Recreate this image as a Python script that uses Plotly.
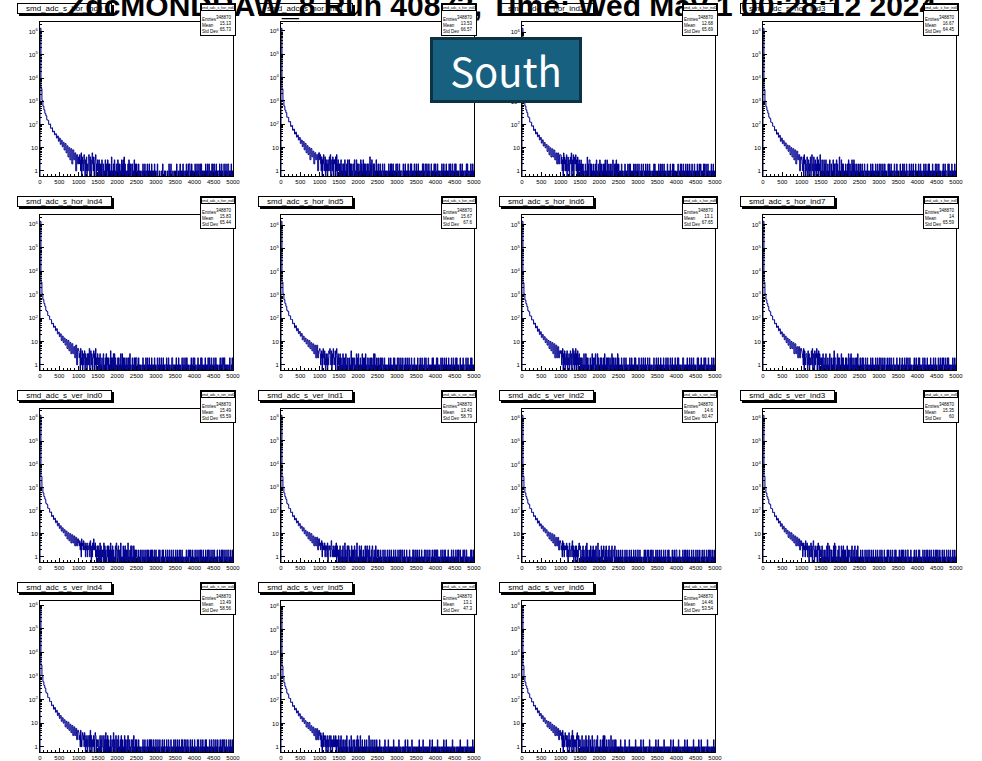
import math
import plotly.graph_objects as go

W, H = 982, 761
HEAD_BIN = 25      # ADC per bin, 0..1000
TAIL_START = 1000
TAIL_BIN = 12.5    # ADC per bin, 1000..5000

TITLE = "ZdcMONDRAW_8 Run 40873, Time: Wed May 1 00:28:12 2024"

names = ["smd_adc_s_hor_ind0", "smd_adc_s_hor_ind1", "smd_adc_s_hor_ind2", "smd_adc_s_hor_ind3",
         "smd_adc_s_hor_ind4", "smd_adc_s_hor_ind5", "smd_adc_s_hor_ind6", "smd_adc_s_hor_ind7",
         "smd_adc_s_ver_ind0", "smd_adc_s_ver_ind1", "smd_adc_s_ver_ind2", "smd_adc_s_ver_ind3",
         "smd_adc_s_ver_ind4", "smd_adc_s_ver_ind5", "smd_adc_s_ver_ind6"]
entries = ["348870"] * 15
means = ["15.13", "13.53", "12.68", "16.67", "15.83", "15.67", "13.1", "14",
         "15.49", "13.43", "14.6", "15.35", "13.49", "13.1", "14.46"]
stddevs = ["65.73", "66.57", "65.69", "64.45", "65.44", "67.6", "67.65", "65.59",
           "65.59", "58.79", "60.47", "60", "58.56", "47.3", "53.54"]

# counts for bins 0..1000 (25 ADC per bin)
head_hor0 = [1400000,3500,1100,620,430,300,240,160,150,100,105,68,72,48,52,36,40,26,32,19,26,14,21,11,17,8,15,6,12,4,10,3,9,2,8,3,6,1,5,2]
head_hor1 = [1300000,3300,1050,600,400,315,200,195,125,130,80,88,55,62,38,46,28,34,21,27,15,21,11,18,8,15,6,12,5,10,3,9,4,7,2,6,3,5,1,6]
head_hor2 = [1500000,3600,1150,640,440,330,220,200,130,128,86,90,56,64,40,47,30,36,22,28,16,22,12,17,10,14,7,12,5,10,4,9,4,8,3,6,2,6,2,5]
head_hor3 = [1400000,3200,1000,580,410,305,205,180,125,118,84,83,54,60,38,44,28,34,19,26,15,20,12,16,9,13,7,12,5,10,4,9,3,8,2,7,3,5,1,4]
head_hor4 = [1350000,3400,1080,610,420,315,210,190,128,122,86,85,56,60,40,45,29,35,21,25,16,21,11,17,9,14,7,12,5,11,4,9,3,8,3,6,2,7,1,5]
head_hor5 = [1450000,3550,1120,630,435,325,218,196,130,126,88,88,58,62,39,48,29,36,22,27,17,22,12,17,10,14,8,12,6,11,5,9,4,8,3,7,2,7,2,4]
head_hor6 = [1380000,3300,1060,590,415,310,208,186,124,122,83,85,55,61,38,45,27,34,20,26,15,20,12,16,9,13,7,11,5,10,4,9,3,8,2,7,2,6,2,4]
head_hor7 = [1420000,3450,1090,615,425,318,212,190,130,124,85,86,57,61,40,46,29,35,21,26,16,21,12,17,9,14,7,12,5,10,5,9,3,8,3,6,2,6,2,5]
head_ver0 = [1300000,3000,1000,580,400,310,205,184,126,122,84,87,55,62,41,47,30,36,22,28,17,22,13,18,11,15,8,13,6,11,5,10,4,9,4,8,3,7,3,6]
head_ver1 = [1250000,2900,980,560,390,302,200,181,122,120,82,85,54,60,39,46,29,35,22,27,17,21,13,18,10,14,8,12,6,11,5,10,4,8,3,7,3,7,2,6]
head_ver2 = [1350000,3100,1020,590,405,312,208,186,125,122,83,86,56,61,40,47,29,36,22,27,17,22,13,18,11,15,8,12,6,11,5,10,4,9,3,7,3,7,2,5]
head_ver3 = [1320000,3050,1010,575,398,306,204,183,124,120,82,85,55,60,39,46,29,35,21,27,16,21,12,17,10,14,7,12,6,11,5,9,4,8,3,7,3,6,2,5]
head_ver4 = [800000,2900,990,570,395,304,202,182,123,119,82,84,55,59,39,46,29,35,21,27,16,21,12,17,10,14,7,12,6,11,5,9,4,8,3,7,3,6,2,5]
head_ver5 = [900000,2800,950,550,380,294,195,176,120,116,79,82,53,58,38,44,28,34,21,26,16,20,12,17,10,13,7,11,6,11,5,8,4,7,3,6,2,6,2,5]
head_ver6 = [850000,2850,970,560,388,300,198,179,121,117,80,83,54,58,38,45,28,34,21,26,16,21,12,17,10,13,7,12,6,11,5,9,4,8,3,7,3,6,2,5]

# counts for bins 1000..5000 (12.5 ADC per bin), one digit per bin
tail_hor0 = ("4253160421 3520314021 2530410362 1402350213 "
             "2030202030 0201030201 3020201040 1020301020 0302020103 2030402010 1020302020 0201030201 "
             "2010201010 0102010201 1020102010 0201010201 1002000100 0100200010 1000100201 0200010010 "
             "0102001001 2010102010 0102010202 2010201010 0201020102 1020201010 0102010201 2010102020 "
             "0201020101 1020102010 0201020102 2010102010")
tail_hor1 = ("3521403251 2403120312 4150231403 2304150231 "
             "2020301020 2030102030 0302020102 1030103020 0201030201 3020201020 2010402030 0202010301 "
             "0201020101 2010201010 0102010202 1020101020 0201020101 1002010201 0102010020 2010102010 "
             "2010201010 0102020102 1020102010 0201010201 2010201010 0102010201 1020101020 0201020101 "
             "2020101010 0201020101 1010202010 0102010201")
tail_hor2 = ("5241306241 3150241302 4260315042 2513042031 "
             "2030202010 0201040203 3020201020 1020301020 0302020102 2030103020 1020201030 0202030201 "
             "2010102010 0102010102 1020201010 0201201020 1020010201 0210102010 2010201001 0102020101 "
             "1002010201 2010201010 0201010201 1020201010 0102101020 2010201002 0102010201 1020010201 "
             "0102010201 2010102020 0201020101 1020102010")
tail_hor3 = ("3214052301 2401302140 3512042031 2041302150 "
             "1030103020 3010201030 0201030202 2030201040 1030202010 0201020302 2010302030 2010201020 "
             "0201020101 2010102010 0102010201 1002010201 0201201020 1020101002 0201020101 1020010201 "
             "0100201002 1020100201 1002010201 0201102010 1020102010 0102010201 1020201010 0201010201 "
             "2010201010 0102010201 1002020101 0201010201")
tail_hor4 = ("4230512403 1240312031 3150241302 2403150213 "
             "2020301020 0301020302 1020104020 2030302010 0202010301 3020201020 1020203010 0201020202 "
             "2010201010 0102010102 1020102010 0201010201 1002010201 0201020101 1020102010 0102201010 "
             "1020010201 0100201020 1020201010 0102010201 2010010201 0102020101 1020101020 0201020101 "
             "2010201010 0102010201 2020101010 0102001020")
tail_hor5 = ("5312403521 4203130214 3521403152 2140352031 "
             "2030201030 2020301020 0201040202 1020103020 3010201030 0202030102 2010202020 1030301020 "
             "0201020201 2010201010 0102010201 1002020101 0201201020 1020010201 0201020101 2010102010 "
             "0102001020 1020100201 2010020101 0102020101 1020201010 0201201020 1020100201 0102010201 "
             "1020201010 0201010201 1002010201 0102020101")
tail_hor6 = ("3412503140 2314021302 4130251403 1503140231 "
             "2020201030 1030202010 0201030201 2030103020 1020201020 0301020202 1020103020 2010201030 "
             "2010102010 0201020101 1002010201 0102020101 1020010201 0201020101 2010201010 0102101020 "
             "1020010201 0102001020 1020100201 0201010201 1020201010 0102201010 1020010201 0201020101 "
             "1002020101 0201010201 2010102010 0102010201")
tail_hor7 = ("4321504213 3204130212 4150320413 2503140321 "
             "2020301020 3010201030 0201020402 2010302020 1030202010 0202010301 2030201020 1020203010 "
             "0201020201 1020102010 0102010201 1002010201 0201201020 1020010201 0201020101 2010100201 "
             "0102001020 1002010201 2010201010 0102010201 1020201010 0201020101 2010010201 0102010201 "
             "1002010201 0201201020 1020201010 0102010201")
tail_ver0 = ("4352416342 5234132413 3241520314 2632412031 "
             "3020403021 2040302013 1030204020 3020103042 2031020401 1030203020 2040102030 3010302021 "
             "2010201020 0201020102 1020201020 0202010201 2010102020 0102020101 2010201020 1020102010 "
             "0201020102 2010201010 0102010201 2020102010 0201020102 1020201020 0102010202 2010201020 "
             "0201010201 1020102020 0201020102 2010201020")
tail_ver1 = ("3423514232 4132314023 2312531213 1231403120 "
             "2030102030 1040201302 3020103020 2031020401 1030203010 2010302031 0203010203 2010203012 "
             "1020102010 0201020101 2010201020 0102010201 1020102020 0201020101 2010102010 0102020102 "
             "1020102010 0201010201 2010201020 0102010202 1020201010 0201020102 2010102010 0102010201 "
             "1020102020 0201010201 2010201010 0102020102")
tail_ver2 = ("4231524132 3241302142 2132513021 3031201342 "
             "3010203020 1030402010 2031020302 0203010401 2010302013 1020301020 3010203012 2030102010 "
             "2010201020 0102010201 1020102010 0201020102 2010201010 0102020102 1020102020 0201010201 "
             "2010201020 0102010201 1020201010 0201020102 2010102010 0102010202 1020102010 0201020101 "
             "2010201020 0102010201 1020102020 0201020102")
tail_ver3 = ("3412423153 2413203124 1302530213 2103420312 "
             "2030102020 1030401302 2020103040 3011020301 1030203020 2010302021 1020301020 3010203010 "
             "1020102010 0201020102 2010201020 0102010201 1020102010 0201010201 2010201020 0102020101 "
             "1020102020 0201020102 2010102010 0102010201 1020201010 0201020102 2010201020 0102010202 "
             "1020102010 0201020101 2010201020 0102010201")
tail_ver4 = ("4231521342 3142031203 2130513021 1302430212 "
             "2010302031 1030204020 3020103012 1040201302 2030102030 0201030201 2031020102 1020301020 "
             "2010201010 0102010201 1020102020 0201020102 2010201020 0102010201 1020102010 0201010201 "
             "2010201020 0102020102 1020102010 0201020101 2010102020 0102010201 1020201010 0201020102 "
             "2010201020 0102010202 1020102010 0201020102")
tail_ver5 = ("3241302413 2130213021 3203120213 1213021203 "
             "1020301020 2010203010 0201030102 1020102030 2010301020 0102010201 1030102010 2010201020 "
             "1010201010 0101020101 1020101010 0102010101 1010201010 0101010201 1020101010 0201010101 "
             "1010102010 0101201010 1010101020 0102010101 1010201010 0101010201 1020101010 0101020101 "
             "1001010101 0201010101 1010102010 0101010201")
tail_ver6 = ("3421503214 2313021402 1230513021 2103420312 "
             "2010301020 1030201030 0201030102 2010203010 1020102030 0301020102 2010301020 1020201010 "
             "1010201010 0102010101 1020101010 0101020101 1010102010 0201010101 1010201010 0101010201 "
             "1020101010 0101201010 1010101020 0102010101 1010201010 0101010201 1020101010 0101020101 "
             "1010102010 0201010101 1010201010 0101010201")

heads = [head_hor0, head_hor1, head_hor2, head_hor3, head_hor4, head_hor5, head_hor6, head_hor7,
         head_ver0, head_ver1, head_ver2, head_ver3, head_ver4, head_ver5, head_ver6]
tails = [tail_hor0, tail_hor1, tail_hor2, tail_hor3, tail_hor4, tail_hor5, tail_hor6, tail_hor7,
         tail_ver0, tail_ver1, tail_ver2, tail_ver3, tail_ver4, tail_ver5, tail_ver6]

x_tick_vals = [0, 500, 1000, 1500, 2000, 2500, 3000, 3500, 4000, 4500, 5000]
y_tick_vals = [1, 10, 100, 1000, 10000, 100000, 1000000]
y_tick_text = ["1", "10", "10<sup>2</sup>", "10<sup>3</sup>", "10<sup>4</sup>", "10<sup>5</sup>", "10<sup>6</sup>"]

# layout geometry (pixels)
COL_LEFT = [40, 281, 522, 763]
COL_RIGHT = [233, 474, 715, 956]
ROW_TOP = [22, 215, 409, 601]
ROW_BOT = [176, 370, 562, 752]

LINE_COLOR = "#00008f"
FONT = "Liberation Sans"
EMPTY = 0.05  # drawing level for empty bins (below the log axis floor)


def px(x):
    return x / W


def py(y):
    return 1 - y / H


fig = go.Figure()
annotations = []
shapes = []

minor_y = [k * 10 ** d for d in range(0, 7) for k in range(2, 10)]

for i, name in enumerate(names):
    r, c = divmod(i, 4)
    head = heads[i]
    tail = [int(ch) for ch in tails[i].replace(" ", "")]
    edges = [HEAD_BIN * k for k in range(len(head))] + [TAIL_START + TAIL_BIN * k for k in range(len(tail))]
    counts = head + tail
    end = TAIL_START + TAIL_BIN * len(tail)
    xs = [0] + edges + [end]
    ys = [EMPTY] + [v if v > 0 else EMPTY for v in counts]
    ys = ys + [ys[-1]]
    ax = "" if i == 0 else str(i + 1)
    fig.add_trace(go.Scatter(x=xs, y=ys, mode="lines",
                             line=dict(color=LINE_COLOR, width=1, shape="hv", simplify=False),
                             xaxis="x" + ax, yaxis="y" + ax, showlegend=False, hoverinfo="skip"))
    peak = max(counts)
    xa = dict(domain=[px(COL_LEFT[c]), px(COL_RIGHT[c])], anchor="y" + ax, range=[0, 5000],
              automargin=False,
              tickmode="array", tickvals=x_tick_vals, ticks="inside", ticklen=4, tickcolor="black",
              minor=dict(ticks="inside", dtick=100, ticklen=2, tickcolor="black"),
              showline=True, mirror=True, linecolor="black", linewidth=1, showgrid=False, zeroline=False,
              tickfont=dict(size=6, color="black", family=FONT))
    ya = dict(domain=[py(ROW_BOT[r]), py(ROW_TOP[r])], anchor="x" + ax, type="log",
              automargin=False,
              range=[-0.22, math.log10(peak) + 0.27],
              tickmode="array", tickvals=y_tick_vals, ticktext=y_tick_text, ticks="inside", ticklen=4,
              tickcolor="black",
              minor=dict(ticks="inside", tickmode="array", tickvals=minor_y, ticklen=2, tickcolor="black"),
              showline=True, mirror=True, linecolor="black", linewidth=1, showgrid=False, zeroline=False,
              tickfont=dict(size=6, color="black", family=FONT))
    fig.layout["xaxis" + ax] = xa
    fig.layout["yaxis" + ax] = ya

# histogram title boxes (shadow as shape, box as annotation)
for i, name in enumerate(names):
    r, c = divmod(i, 4)
    x0 = 17 + 241 * c
    x1 = x0 + 95
    y0 = ROW_TOP[r] - 19
    y1 = y0 + 11
    shapes.append(dict(type="rect", xref="paper", yref="paper", x0=px(x0 + 2), x1=px(x1 + 2),
                       y0=py(y1 + 2), y1=py(y0 + 2), fillcolor="black", line=dict(width=0), layer="above"))
    annotations.append(dict(xref="paper", yref="paper", x=px((x0 + x1) / 2), y=py((y0 + y1) / 2),
                            xanchor="center", yanchor="middle", text=name, showarrow=False,
                            width=x1 - x0 - 2, height=y1 - y0 - 2, bgcolor="white", bordercolor="black",
                            borderwidth=1, borderpad=0, font=dict(size=8, color="black", family=FONT)))

# canvas title
annotations.append(dict(xref="paper", yref="paper", x=px(502), y=py(5), xanchor="center", yanchor="middle",
                        text="<b>" + TITLE + "</b>", showarrow=False,
                        font=dict(size=30, color="black", family=FONT)))

# stats boxes
for i, name in enumerate(names):
    r, c = divmod(i, 4)
    bx1 = COL_RIGHT[c] + 2
    bx0 = bx1 - 34
    by0 = ROW_TOP[r] - 18
    by1 = by0 + 31
    cx = (bx0 + bx1) / 2
    shapes.append(dict(type="rect", xref="paper", yref="paper", x0=px(bx0 + 1), x1=px(bx1 + 1),
                       y0=py(by1 + 1), y1=py(by0 + 1), fillcolor="black", line=dict(width=0), layer="above"))
    annotations.append(dict(xref="paper", yref="paper", x=px(cx), y=py((by0 + by1) / 2),
                            xanchor="center", yanchor="middle",
                            text="Entries<br>Mean<br>Std Dev", align="left", valign="bottom",
                            showarrow=False, width=bx1 - bx0 - 2, height=by1 - by0 - 2,
                            bgcolor="white", bordercolor="black", borderwidth=1, borderpad=1,
                            font=dict(size=4.5, color="black", family=FONT)))
    annotations.append(dict(xref="paper", yref="paper", x=px(cx), y=py(by0 + 3.5),
                            xanchor="center", yanchor="middle", text=name, showarrow=False,
                            width=bx1 - bx0 - 2, height=5, bordercolor="black", borderwidth=1, borderpad=0,
                            bgcolor="white", font=dict(size=3.5, color="black", family=FONT)))
    annotations.append(dict(xref="paper", yref="paper", x=px(bx1 - 2), y=py(by1 - 2),
                            xanchor="right", yanchor="bottom",
                            text=entries[i] + "<br>" + means[i] + "<br>" + stddevs[i], align="right",
                            showarrow=False, borderpad=0,
                            font=dict(size=4.5, color="black", family=FONT)))

# "South" label
annotations.append(dict(xref="paper", yref="paper", x=px(506), y=py(70.5), xanchor="center", yanchor="middle",
                        text="South", showarrow=False, width=146, height=60, bgcolor="#17607f",
                        bordercolor="#0c3344", borderwidth=3, borderpad=0,
                        font=dict(size=40, color="white", family="Noto Sans CJK JP")))

fig.update_layout(width=W, height=H, margin=dict(l=0, r=0, t=0, b=0, pad=0),
                  paper_bgcolor="white", plot_bgcolor="white", annotations=annotations, shapes=shapes,
                  showlegend=False)

fig.write_html("out.html", config={"displayModeBar": False},
               post_script="document.body.style.margin='0px';document.body.style.overflow='hidden';")
